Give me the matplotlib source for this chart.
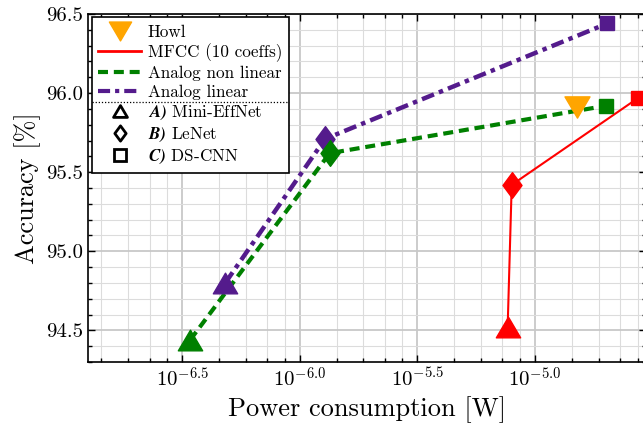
import numpy as np
import matplotlib
matplotlib.use("Agg")
import matplotlib.pyplot as plt
from matplotlib.lines import Line2D
from matplotlib.path import Path
from matplotlib.ticker import FixedLocator, FuncFormatter, MultipleLocator

plt.rcParams['font.family'] = 'serif'
plt.rcParams['font.serif'] = ['cmr10']
plt.rcParams['mathtext.fontset'] = 'cm'
plt.rcParams['axes.formatter.use_mathtext'] = True

# power [W] and accuracy [%] for the three models: Mini-EffNet, LeNet, DS-CNN
lin_power = [4.82e-7, 1.28e-6, 2.03e-5]
lin_acc = [94.80, 95.71, 96.44]
nonlin_power = [3.42e-7, 1.34e-6, 2.01e-5]
nonlin_acc = [94.44, 95.62, 95.92]
mfcc_power = [7.65e-6, 7.96e-6, 2.75e-5]
mfcc_acc = [94.52, 95.42, 95.97]
howl_power = [1.51e-5]
howl_acc = [95.91]

model_names = [r'$\mathbfit{A)}$ Mini-EffNet', r'$\mathbfit{B)}$ LeNet', r'$\mathbfit{C)}$ DS-CNN']

def closed(v):
    return Path(v + [v[0]], closed=True)

# marker shapes
tri_up = closed([(-1, -0.85), (1, -0.85), (0, 0.85)])
tri_down = closed([(-1, 0.85), (1, 0.85), (0, -0.85)])
diamond = closed([(0, 1), (0.74, 0), (0, -1), (-0.74, 0)])
shapes = [tri_up, diamond, 's']
sizes = [17.5, 18.5, 10]

fig = plt.figure(figsize=(6.43, 4.23), dpi=100)
ax = fig.add_axes([0.137, 0.144, 0.867, 0.823])

purple = '#541b8c'

def draw_series(p, a, color, ls, lw):
    ax.plot(p, a, color=color, ls=ls, lw=lw, zorder=2)
    for i in range(3):
        ax.plot(p[i], a[i], ls='none', marker=shapes[i], ms=sizes[i], color=color, zorder=3)

draw_series(lin_power, lin_acc, purple, (0, (2.9, 1.2, 1.0, 1.2)), 3.2)
draw_series(nonlin_power, nonlin_acc, 'green', (0, (2.4, 1.4)), 3.0)
draw_series(mfcc_power, mfcc_acc, 'red', '-', 1.5)
ax.plot(howl_power, howl_acc, ls='none', marker=tri_down, ms=18, color='orange', zorder=4)

ax.set_xscale('log')
ax.set_xlim(10**-6.9, 10**-4.53)
ax.set_ylim(94.3, 96.5)

major_exp = np.arange(-7.5, -4.0, 0.5)
majors = 10.0**major_exp
minors = []
for a, b in zip(majors[:-1], majors[1:]):
    minors += list(a + (b - a) * np.arange(1, 5) / 5)
ax.xaxis.set_major_locator(FixedLocator(majors))
ax.xaxis.set_minor_locator(FixedLocator(minors))
ax.xaxis.set_major_formatter(FuncFormatter(lambda x, pos: r'$10^{%.1f}$' % np.log10(x)))
ax.xaxis.set_minor_formatter(FuncFormatter(lambda x, pos: ''))
ax.yaxis.set_major_locator(MultipleLocator(0.5))
ax.yaxis.set_minor_locator(MultipleLocator(0.1))
ax.yaxis.set_major_formatter(FuncFormatter(lambda y, pos: '%.1f' % y))

ax.tick_params(which='both', direction='in', top=True, right=True, labelsize=15, width=1)
ax.tick_params(which='major', length=5)
ax.tick_params(which='minor', length=3)
for s in ax.spines.values():
    s.set_linewidth(1.2)

ax.grid(True, which='major', color='#c8c8c8', lw=1.3)
ax.grid(True, which='minor', color='#dcdcdc', lw=0.8)
ax.set_axisbelow(True)

ax.set_xlabel('Power consumption [W]', fontsize=19)
ax.set_ylabel('Accuracy [%]', fontsize=19)

handles = [
    Line2D([], [], ls='none', marker=tri_down, ms=16, color='orange'),
    Line2D([], [], color='red', lw=2),
    Line2D([], [], color='green', lw=3, ls=(0, (2.4, 1.4))),
    Line2D([], [], color=purple, lw=3, ls=(0, (2.9, 1.2, 1.0, 1.2))),
]
labels = ['Howl', 'MFCC (10 coeffs)', 'Analog non linear', 'Analog linear']
leg_sizes = [10, 11, 8]
for i in range(3):
    handles.append(Line2D([], [], ls='none', marker=shapes[i], ms=leg_sizes[i],
                          mfc='white', mec='black', mew=2))
    labels.append(model_names[i])

leg = ax.legend(handles, labels, loc='upper left', fancybox=False,
                edgecolor='black', framealpha=1, borderaxespad=0.2, borderpad=0.4,
                handlelength=2.5, handletextpad=0.4, labelspacing=0.22,
                prop={'size': 12.3, 'math_fontfamily': 'stix'})
leg.get_frame().set_linewidth(1.2)

# dotted separator between the series and the model entries
fig.canvas.draw()
r = fig.canvas.get_renderer()
fb = leg.get_frame().get_window_extent(r)
t4 = leg.get_texts()[3].get_window_extent(r)
t5 = leg.get_texts()[4].get_window_extent(r)
ymid = (t4.y0 + t5.y1) / 2
inv = fig.transFigure.inverted()
(x0, y0), (x1, _) = inv.transform([(fb.x0, ymid), (fb.x1, ymid)])
fig.add_artist(Line2D([x0, x1], [y0, y0], color='black', lw=0.9, ls=(0, (1, 1.5)), zorder=10))

fig.savefig('out.png', dpi=100)
